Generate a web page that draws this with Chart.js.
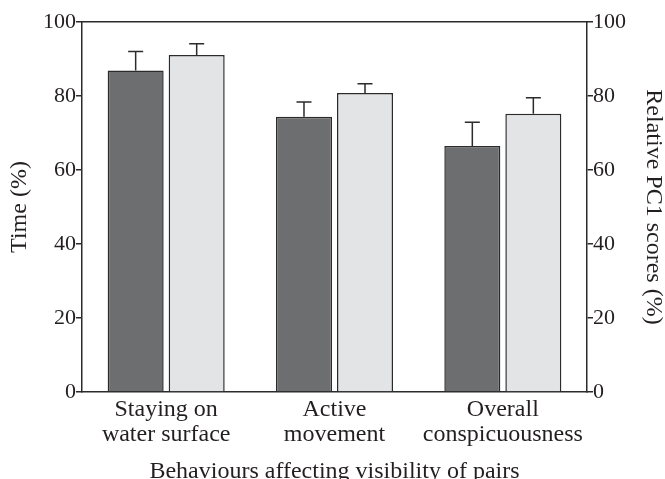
<!DOCTYPE html>
<html>
<head>
<meta charset="utf-8">
<script src="https://cdn.jsdelivr.net/npm/chart.js@4"></script>
<style>
  html, body { margin: 0; padding: 0; background: #fff; }
  #wrap { width: 665px; height: 479px; }
</style>
</head>
<body>
<div id="wrap"><canvas id="myChart" width="665" height="479"></canvas></div>
<script>
// data
const categorias = [['Staying on', 'water surface'], ['Active', 'movement'], ['Overall', 'conspicuousness']];
const tiempo = [86.9, 74.4, 66.5];        // Time (%)  - dark bars
const tiempoErr = [5.1, 4.0, 6.4];
const pc1 = [91.1, 80.8, 75.2];           // Relative PC1 scores (%) - light bars
const pc1Err = [3.0, 2.5, 4.3];
const ticksY = [0, 20, 40, 60, 80, 100];

const tinta = '#2b2b2b';
const serif = '"Liberation Serif", "Times New Roman", serif';
const fuente = { family: serif, size: 22 };
const fuenteTexto = { family: serif, size: 24 };

// simple upper error bars, drawn from the bar elements and the y scales
const barrasError = {
  id: 'barrasError',
  afterDatasetsDraw(chart) {
    const ctx = chart.ctx;
    ctx.save();
    ctx.strokeStyle = tinta;
    ctx.lineWidth = 1.5;
    chart.data.datasets.forEach((ds, i) => {
      const meta = chart.getDatasetMeta(i);
      const escala = chart.scales[ds.yAxisID];
      meta.data.forEach((bar, j) => {
        const yTop = escala.getPixelForValue(ds.data[j] + ds.err[j]);
        ctx.beginPath();
        ctx.moveTo(bar.x, bar.y);
        ctx.lineTo(bar.x, yTop);
        ctx.moveTo(bar.x - 7.5, yTop);
        ctx.lineTo(bar.x + 7.5, yTop);
        ctx.stroke();
      });
    });
    ctx.restore();
  }
};

function ejeY(posicion, titulo, ancho) {
  return {
    type: 'linear',
    position: posicion,
    min: 0,
    max: 100,
    afterFit: (s) => { s.width = ancho; },
    afterBuildTicks: (s) => { s.ticks = ticksY.map(v => ({ value: v })); },
    grid: { drawOnChartArea: false, drawTicks: true, tickLength: 6, color: tinta, lineWidth: 1.5 },
    border: { display: true, color: tinta, width: 1.5 },
    ticks: { padding: 0, color: '#231f20', font: fuente },
    title: {
      display: true,
      text: titulo,
      color: '#231f20',
      font: { ...fuenteTexto, lineHeight: '14px' },
      padding: { top: posicion === 'left' ? 13 : 5, bottom: 0 }
    }
  };
}

const ctx = document.getElementById('myChart').getContext('2d');
const myChart = new Chart(ctx, {
  type: 'bar',
  data: {
    labels: categorias,
    datasets: [
      {
        label: 'Time',
        data: tiempo,
        err: tiempoErr,
        yAxisID: 'y',
        backgroundColor: '#6d6e70',
        borderColor: tinta,
        borderWidth: 1.5,
        barPercentage: 0.918,
        categoryPercentage: 0.725
      },
      {
        label: 'Relative PC1',
        data: pc1,
        err: pc1Err,
        yAxisID: 'y1',
        backgroundColor: '#e3e4e6',
        borderColor: tinta,
        borderWidth: 1.5,
        barPercentage: 0.918,
        categoryPercentage: 0.725
      }
    ]
  },
  options: {
    responsive: false,
    animation: false,
    layout: { padding: { top: 22, left: 0, right: 0, bottom: 0 } },
    plugins: {
      legend: { display: false },
      tooltip: { enabled: false }
    },
    scales: {
      x: {
        position: 'bottom',
        afterFit: (s) => { s.height = 87; },
        grid: { display: false, drawTicks: false },
        border: { display: true, color: tinta, width: 1.5 },
        ticks: { padding: 5, color: '#231f20', font: { ...fuenteTexto, lineHeight: '25px' }, maxRotation: 0 },
        title: {
          display: true,
          text: 'Behaviours affecting visibility of pairs',
          color: '#231f20',
          font: { ...fuenteTexto, lineHeight: '14px' },
          padding: { top: 0, bottom: 0 }
        }
      },
      xTop: {
        type: 'category',
        position: 'top',
        afterFit: (s) => { s.height = 0; },
        grid: { display: false, drawTicks: false },
        border: { display: true, color: tinta, width: 1.5 },
        ticks: { display: false }
      },
      y: ejeY('left', 'Time (%)', 82),
      y1: ejeY('right', 'Relative PC1 scores (%)', 78)
    }
  },
  plugins: [barrasError]
});
</script>
</body>
</html>
